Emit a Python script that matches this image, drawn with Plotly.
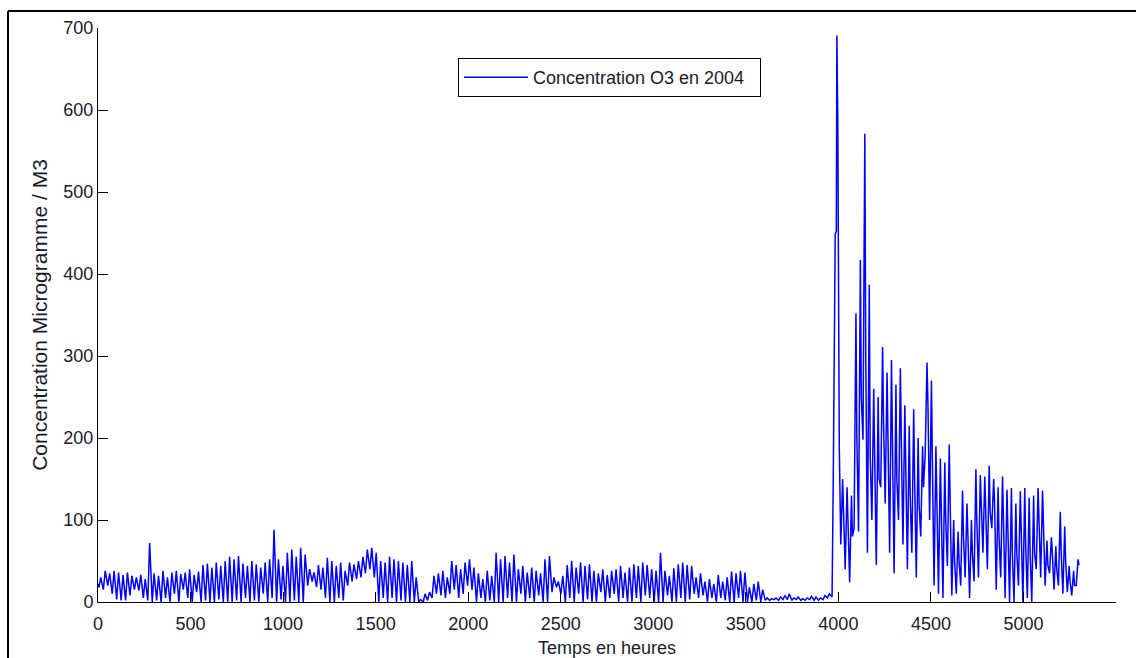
import plotly.graph_objects as go

# ---------------- data ----------------
# Daily maximum / minimum ozone concentration, days 0..164 (hours 0..3960)
daily_max_low = [
    30, 38, 35, 38, 36, 33, 36, 32, 30, 33, 28, 72,
    35, 32, 38, 30, 36, 38, 34, 36, 40, 33, 37,
    45, 47, 42, 48, 44, 50, 55, 52, 56,
    47, 44, 50, 46, 42, 48, 52, 88, 52, 44,
    60, 64, 55, 66, 58, 40, 36, 45, 42, 54,
    50, 44, 48, 38, 48, 46, 50, 55, 64, 66, 60, 50, 48,
    55, 52, 50, 48, 45, 50, 30, 3, 10, 12,
    32, 35, 38, 30, 50, 45, 40, 48, 52, 42,
    35, 28, 38, 32, 60, 52, 56, 48, 58,
    40, 44, 36, 42, 38, 35, 52, 56, 30, 25, 32,
    45, 50, 42, 48, 44, 46, 38, 35, 40, 33, 38,
    40, 44, 36, 42, 46, 44, 48, 45, 40, 38, 60,
    38, 32, 41, 46, 48, 45, 44, 30, 35, 25,
    28, 22, 33, 25, 30, 37, 35, 38, 36, 18, 22, 25, 15,
    5, 4, 5, 6, 8, 10, 5, 6, 4, 5, 7, 6, 5, 8, 10,
]
daily_min_low = [
    18, 15, 20, 10, 3, 2, 2, 8, 15, 14, 5, 2,
    0, 2, 0, 5, 0, 10, 0, 15, 5, 0, 12,
    0, 2, 0, 0, 3, 0, 0, 0, 2,
    0, 5, 0, 2, 0, 10, 0, 5, 0, 3,
    0, 0, 2, 0, 0, 20, 25, 18, 15, 5,
    0, 0, 5, 2, 20, 25, 28, 30, 35, 40, 30, 0, 5,
    0, 5, 0, 2, 0, 0, 0, 0, 0, 2,
    5, 10, 8, 5, 10, 15, 5, 10, 20, 15,
    0, 5, 0, 2, 0, 0, 0, 5, 0,
    0, 10, 0, 5, 0, 8, 0, 0, 12, 18, 10,
    0, 5, 0, 10, 0, 3, 0, 0, 12, 0, 5,
    10, 0, 5, 0, 0, 5, 0, 8, 5, 0, 0,
    0, 8, 0, 0, 5, 0, 3, 10, 5, 8,
    0, 5, 0, 5, 2, 0, 0, 5, 0, 0, 0, 2, 0,
    2, 2, 3, 2, 3, 3, 2, 3, 2, 2, 3, 2, 2, 3, 5,
]
# Sudden peak around hour 4000
peak_hours = [3966, 3972, 3976, 3983, 3989, 3992, 3997, 4001, 4005]
peak_values = [6, 140, 277, 449, 452, 691, 584, 300, 189]
# Daily maximum / minimum / evening level, days 167..220 (hours 4008..5304)
daily_max_high = [
    150, 140, 130, 352, 417, 571, 387, 260, 250, 311,
    280, 295, 265, 285, 240, 215, 235, 200, 190, 292,
    270, 190, 175, 170, 192, 100, 86, 136, 120, 100,
    162, 155, 153, 166, 150, 140, 153, 137, 139, 120,
    135, 139, 127, 130, 139, 136, 75, 79, 68, 110,
    92, 44, 38, 52,
]
daily_min_high = [
    70, 40, 24, 90, 86, 198, 60, 100, 45, 140,
    120, 60, 35, 100, 70, 40, 60, 30, 80, 180,
    100, 20, 10, 5, 44, 8, 10, 20, 30, 5,
    25, 30, 60, 40, 90, 15, 30, 5, 0, 0,
    20, 0, 5, 0, 40, 30, 20, 35, 15, 20,
    10, 12, 8, 20,
]
daily_eve_high = [
    110, 90, 80, 200, 250, 300, 180, 180, 150, 220,
    200, 180, 150, 200, 150, 130, 150, 120, 140, 240,
    170, 110, 90, 100, 120, 50, 50, 80, 80, 60,
    100, 110, 120, 110, 120, 80, 100, 70, 60, 60,
    90, 70, 60, 60, 100, 90, 45, 60, 40, 60,
    50, 25, 20, 45,
]
start_value = 22
first_high_day = 167

x_ticks = [0, 500, 1000, 1500, 2000, 2500, 3000, 3500, 4000, 4500, 5000, 5500]
y_ticks = [0, 100, 200, 300, 400, 500, 600, 700]

# ---------------- build the hourly series ----------------
hours = [0]
values = [start_value]
for d, (lo, hi) in enumerate(zip(daily_min_low, daily_max_low)):
    hours += [24 * d + 5, 24 * d + 15]
    values += [lo, hi]
hours += peak_hours
values += peak_values
for i, (lo, hi, ev) in enumerate(zip(daily_min_high, daily_max_high, daily_eve_high)):
    d = first_high_day + i
    hours += [24 * d + 5, 24 * d + 15, 24 * d + 20]
    values += [lo, hi, ev]

FONT = "Liberation Sans, Arial, sans-serif"
TXT = "#1a1a2e"

fig = go.Figure()
fig.add_trace(go.Scatter(
    x=hours, y=values, mode="lines",
    line=dict(color="#0000ff", width=1.5),
    name="Concentration O3 en 2004\u00a0\u00a0",
))

fig.update_layout(
    width=1136, height=658,
    margin=dict(l=98, r=20, t=28, b=56),
    paper_bgcolor="white", plot_bgcolor="white",
    showlegend=True,
    legend=dict(
        x=0.3536, y=0.9477, xanchor="left", yanchor="top",
        bgcolor="white", bordercolor="black", borderwidth=1,
        font=dict(family=FONT, size=18, color=TXT),
        itemwidth=64,
    ),
    font=dict(family=FONT, color=TXT),
)
fig.update_xaxes(
    range=[0, 5500], tickvals=x_ticks, ticktext=[str(v) for v in x_ticks],
    showgrid=False, zeroline=False, automargin=False,
    showline=True, linecolor="black", linewidth=1, mirror=False,
    ticks="inside", ticklen=10, tickcolor="black", tickwidth=1,
    ticklabelstandoff=5,
    tickfont=dict(family=FONT, size=18, color=TXT),
    title=dict(text="Temps en heures", font=dict(family=FONT, size=18, color=TXT),
               standoff=14),
)
fig.update_yaxes(
    range=[0, 700], tickvals=y_ticks, ticktext=[str(v) for v in y_ticks],
    showgrid=False, zeroline=False, automargin=False,
    showline=True, linecolor="black", linewidth=1, mirror=False,
    ticks="inside", ticklen=10, tickcolor="black", tickwidth=1,
    tickfont=dict(family=FONT, size=18, color=TXT),
    title=dict(text="Concentration Microgramme / M3",
               font=dict(family=FONT, size=21, color=TXT),
               standoff=10),
)
# outer picture frame (left and top edges)
fig.add_shape(type="line", xref="paper", yref="paper",
              x0=-0.0884, x1=-0.0884, y0=1.0296, y1=-0.2,
              line=dict(color="black", width=2))
fig.add_shape(type="line", xref="paper", yref="paper",
              x0=-0.0884, x1=1.03, y0=1.0296, y1=1.0296,
              line=dict(color="black", width=2))

fig.write_html("out.html")
